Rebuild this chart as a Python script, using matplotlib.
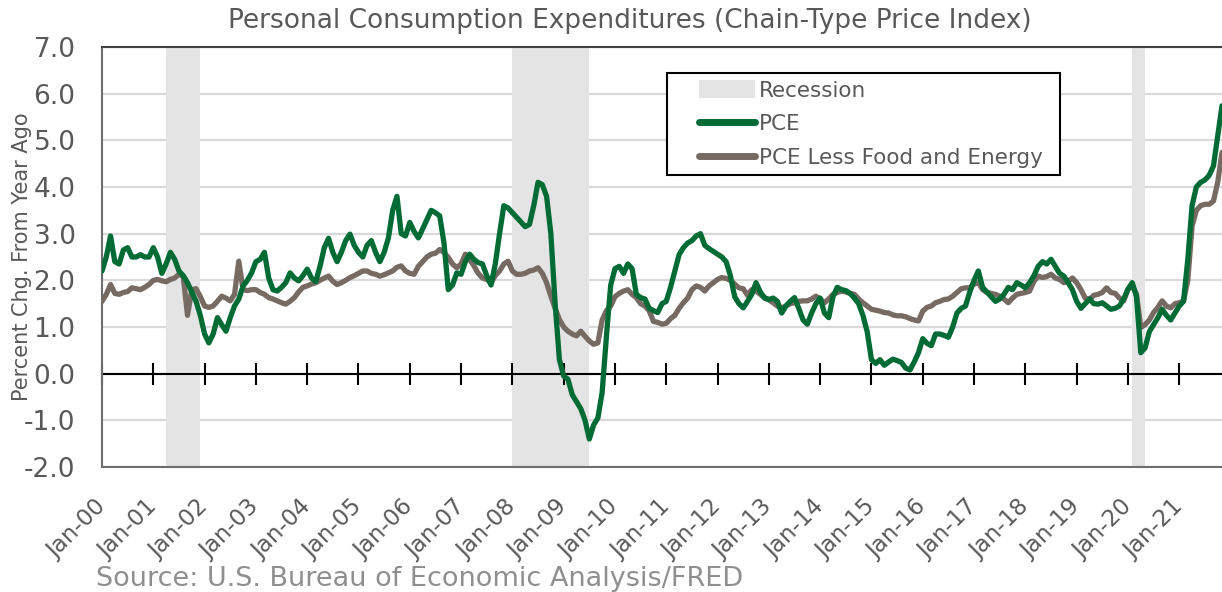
import matplotlib
matplotlib.use("Agg")
import matplotlib.pyplot as plt
import matplotlib.patches as mpatches
import matplotlib.lines as mlines
import numpy as np
import pandas as pd

# ---------------- data (monthly, Jan-2000 .. Nov-2021), % chg from year ago
pce = [
    # 2000
    2.2, 2.5, 2.95, 2.4, 2.35, 2.65, 2.7, 2.5, 2.5, 2.55, 2.5, 2.5,
    # 2001
    2.7, 2.5, 2.15, 2.35, 2.6, 2.45, 2.2, 2.1, 1.95, 1.75, 1.55, 1.25,
    # 2002
    0.85, 0.66, 0.85, 1.2, 1.05, 0.91, 1.2, 1.45, 1.6, 1.88, 2.0, 2.16,
    # 2003
    2.4, 2.45, 2.6, 2.05, 1.8, 1.77, 1.85, 1.95, 2.16, 2.05, 1.99, 2.1,
    # 2004
    2.24, 2.05, 1.97, 2.3, 2.7, 2.9, 2.6, 2.4, 2.6, 2.85, 2.99, 2.75,
    # 2005
    2.6, 2.5, 2.75, 2.85, 2.6, 2.4, 2.6, 2.91, 3.5, 3.8, 3.0, 2.95,
    # 2006
    3.24, 3.05, 2.91, 3.1, 3.3, 3.5, 3.45, 3.38, 2.8, 1.8, 1.9, 2.16,
    # 2007
    2.13, 2.4, 2.56, 2.45, 2.38, 2.35, 2.1, 1.9, 2.35, 3.0, 3.6, 3.55,
    # 2008
    3.45, 3.35, 3.25, 3.15, 3.2, 3.6, 4.1, 4.05, 3.8, 3.0, 1.5, 0.3,
    # 2009
    -0.05, -0.12, -0.45, -0.6, -0.75, -1.0, -1.4, -1.1, -0.95, -0.4, 0.8, 1.9,
    # 2010
    2.25, 2.3, 2.15, 2.35, 2.25, 1.7, 1.63, 1.6, 1.4, 1.35, 1.31, 1.5,
    # 2011
    1.55, 1.85, 2.2, 2.55, 2.7, 2.8, 2.85, 2.95, 3.0, 2.75, 2.68, 2.62,
    # 2012
    2.56, 2.5, 2.4, 2.1, 1.65, 1.5, 1.41, 1.55, 1.7, 1.95, 1.75, 1.62,
    # 2013
    1.59, 1.62, 1.55, 1.3, 1.45, 1.55, 1.63, 1.4, 1.15, 1.06, 1.3, 1.5,
    # 2014
    1.62, 1.3, 1.2, 1.65, 1.85, 1.8, 1.78, 1.72, 1.62, 1.5, 1.25, 0.9,
    # 2015
    0.3, 0.22, 0.3, 0.18, 0.25, 0.31, 0.28, 0.24, 0.12, 0.08, 0.25, 0.45,
    # 2016
    0.75, 0.65, 0.6, 0.85, 0.85, 0.82, 0.78, 1.0, 1.3, 1.4, 1.45, 1.75,
    # 2017
    2.0, 2.2, 1.85, 1.75, 1.65, 1.55, 1.6, 1.7, 1.85, 1.8, 1.95, 1.9,
    # 2018
    1.84, 1.95, 2.1, 2.3, 2.4, 2.35, 2.45, 2.3, 2.15, 2.09, 1.95, 1.8,
    # 2019
    1.55, 1.4, 1.5, 1.6, 1.5, 1.49, 1.52, 1.45, 1.38, 1.4, 1.45, 1.6,
    # 2020
    1.81, 1.95, 1.65, 0.45, 0.55, 0.9, 1.05, 1.2, 1.38, 1.25, 1.15, 1.3,
    # 2021
    1.45, 1.55, 2.45, 3.6, 4.0, 4.1, 4.15, 4.25, 4.45, 5.1, 5.74,
]

pce_core = [
    # 2000
    1.55, 1.7, 1.91, 1.72, 1.7, 1.74, 1.76, 1.84, 1.82, 1.8, 1.85, 1.91,
    # 2001
    2.0, 2.02, 1.99, 1.97, 2.02, 2.05, 2.13, 2.09, 1.25, 1.8, 1.82, 1.65,
    # 2002
    1.45, 1.42, 1.45, 1.55, 1.66, 1.62, 1.56, 1.7, 2.41, 1.8, 1.78, 1.8,
    # 2003
    1.8, 1.74, 1.7, 1.63, 1.6, 1.56, 1.52, 1.49, 1.55, 1.63, 1.75, 1.85,
    # 2004
    1.88, 1.92, 1.95, 2.0, 2.05, 2.09, 1.98, 1.91, 1.95, 2.0, 2.06, 2.1,
    # 2005
    2.15, 2.2, 2.2, 2.15, 2.13, 2.09, 2.12, 2.16, 2.2, 2.28, 2.31, 2.2,
    # 2006
    2.15, 2.13, 2.3, 2.4, 2.5, 2.56, 2.58, 2.66, 2.6, 2.49, 2.35, 2.27,
    # 2007
    2.35, 2.56, 2.45, 2.31, 2.15, 2.05, 2.02, 1.95, 2.1, 2.2, 2.35, 2.41,
    # 2008
    2.2, 2.13, 2.13, 2.15, 2.2, 2.22, 2.27, 2.15, 1.95, 1.66, 1.4, 1.16,
    # 2009
    1.0, 0.91, 0.85, 0.81, 0.91, 0.8, 0.7, 0.63, 0.66, 1.15, 1.35, 1.45,
    # 2010
    1.65, 1.72, 1.77, 1.8, 1.7, 1.63, 1.5, 1.45, 1.35, 1.12, 1.1, 1.06,
    # 2011
    1.08, 1.18, 1.25, 1.4, 1.52, 1.62, 1.8, 1.88, 1.85, 1.77, 1.88, 1.95,
    # 2012
    2.02, 2.06, 2.04, 2.0, 1.92, 1.84, 1.82, 1.68, 1.8, 1.77, 1.7, 1.63,
    # 2013
    1.58, 1.52, 1.45, 1.41, 1.45, 1.5, 1.52, 1.55, 1.56, 1.56, 1.6, 1.66,
    # 2014
    1.6, 1.52, 1.6, 1.7, 1.74, 1.77, 1.75, 1.72, 1.7, 1.6, 1.52, 1.45,
    # 2015
    1.38, 1.36, 1.34, 1.31, 1.3, 1.26, 1.24, 1.24, 1.22, 1.18, 1.15, 1.13,
    # 2016
    1.34, 1.42, 1.45, 1.52, 1.55, 1.59, 1.6, 1.66, 1.74, 1.82, 1.84, 1.84,
    # 2017
    1.92, 1.95, 1.8, 1.74, 1.72, 1.7, 1.66, 1.6, 1.52, 1.62, 1.7, 1.72,
    # 2018
    1.74, 1.77, 1.98, 2.09, 2.06, 2.08, 2.13, 2.05, 2.02, 1.95, 1.98, 2.05,
    # 2019
    1.95, 1.8, 1.62, 1.59, 1.68, 1.7, 1.74, 1.84, 1.74, 1.72, 1.62, 1.56,
    # 2020
    1.81, 1.88, 1.7, 0.99, 1.05, 1.15, 1.31, 1.42, 1.56, 1.45, 1.41, 1.5,
    # 2021
    1.52, 1.56, 2.0, 3.16, 3.5, 3.6, 3.63, 3.63, 3.7, 4.1, 4.74,
]

start_month = "2000-01"
recessions = [("2001-04", "2001-11"), ("2008-01", "2009-06"), ("2020-02", "2020-04")]

title = "Personal Consumption Expenditures (Chain-Type Price Index)"
ylabel = "Percent Chg. From Year Ago"
source = "Source: U.S. Bureau of Economic Analysis/FRED"
labels = ["Recession", "PCE", "PCE Less Food and Energy"]

# ---------------- styling
GREEN = "#006B35"
TAUPE = "#766A62"
REC = "#E4E4E4"
GRID = "#D9D9D9"
TXT = "#595959"
SRC = "#8F8F8F"

W, H = 1222, 592
months = pd.period_range(start_month, periods=len(pce), freq="M")
x = np.arange(len(pce))

fig = plt.figure(figsize=(W / 100, H / 100), dpi=100)
ax = fig.add_axes([102 / W, 1 - 467 / H, 1120 / W, 420 / H])

ax.set_xlim(0, len(pce) - 1)
ax.set_ylim(-2, 7)

# gridlines
yt = np.arange(-2, 8, 1)
for v in yt:
    ax.axhline(v, color=GRID, lw=1.6, zorder=0)

# recession shading
for s, e in recessions:
    i0 = months.get_loc(pd.Period(s, "M"))
    i1 = months.get_loc(pd.Period(e, "M"))
    ax.axvspan(i0 - 0.1, i1 + 0.9, color=REC, lw=0, zorder=1)

# zero axis with tick marks
sec = ax.secondary_xaxis(0, transform=ax.transData)
sec.set_xticks(x[::12])
sec.set_xticklabels([])
sec.tick_params(axis="x", direction="inout", length=16, width=1.5, color="black")
sec.spines["bottom"].set_color("black")
sec.spines["bottom"].set_linewidth(1.5)
sec.set_zorder(2)

ax.plot(x, pce, color=GREEN, lw=3.8, zorder=4, solid_capstyle="round", solid_joinstyle="round")
ax.plot(x, pce_core, color=TAUPE, lw=3.8, zorder=3, solid_capstyle="round", solid_joinstyle="round")

# axes styling
ax.set_yticks(yt)
ax.set_yticklabels([f"{v:.1f}" for v in yt])
ax.tick_params(axis="y", length=0, labelsize=19, labelcolor=TXT, pad=19)
ax.set_xticks(x[::12])
ax.set_xticklabels([m.strftime("%b-%y") for m in months[::12]], rotation=45,
                   ha="right", va="center", rotation_mode="anchor")
ax.tick_params(axis="x", length=0, labelsize=16.5, labelcolor=TXT, pad=26)

for sp in ["left", "bottom", "top"]:
    ax.spines[sp].set_color("#6E6E6E")
    ax.spines[sp].set_linewidth(1.5)
ax.spines["right"].set_visible(False)
ax.spines["top"].set_color("#404040")

# legend (frame drawn separately so the inner margins match)
handles = [
    mpatches.Patch(facecolor=REC, edgecolor="none", label=labels[0]),
    mlines.Line2D([], [], color=GREEN, lw=5, solid_capstyle="round", label=labels[1]),
    mlines.Line2D([], [], color=TAUPE, lw=5, solid_capstyle="round", label=labels[2]),
]
frame = mpatches.Rectangle((667 / W, 1 - 175 / H), (1060 - 667) / W, (175 - 73) / H,
                           transform=fig.transFigure, facecolor="white",
                           edgecolor="black", lw=1.5, zorder=5)
fig.patches.append(frame)
leg = fig.legend(handles=handles, loc="upper left",
                 bbox_to_anchor=(694 / W, 1 - 75 / H),
                 fontsize=15.5, frameon=False, handlelength=2.6, handleheight=0.9,
                 handletextpad=0.15, labelspacing=0.62, borderpad=0.25,
                 borderaxespad=0)
for t in leg.get_texts():
    t.set_color(TXT)
leg.set_zorder(6)

fig.text(630 / W, 1 - 21 / H, title, ha="center", va="center", fontsize=19, color=TXT)
fig.text(22 / W, 1 - 257 / H, ylabel, ha="center", va="center", rotation=90,
         fontsize=15, color=TXT)
fig.text(96 / W, 1 - 579 / H, source, ha="left", va="center", fontsize=19.5, color=SRC)

fig.savefig("out.png", dpi=100)
